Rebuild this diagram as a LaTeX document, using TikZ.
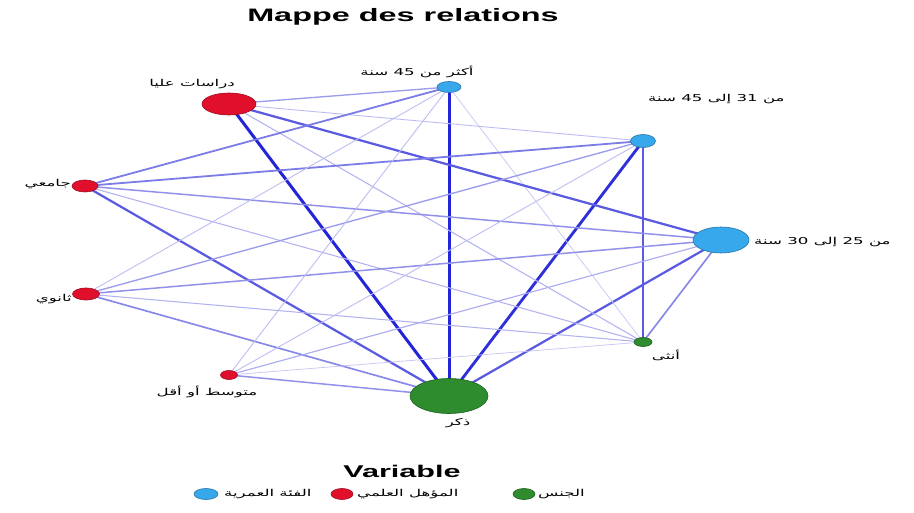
\documentclass[tikz,border=0pt]{standalone}
\usepackage{graphicx}
\usepackage{fontspec}
\setmainfont{Liberation Sans}
\newfontfamily\arabicfont[Script=Arabic]{DejaVu Sans}
\TeXXeTstate=1
\usetikzlibrary{shapes.geometric}
\pgfdeclarelayer{bglayer}
\pgfdeclarelayer{edgelayer}
\pgfsetlayers{bglayer,edgelayer,main}
\newcommand\artxt[1]{\scalebox{1.75}[1]{\arabicfont\fontsize{9.5}{11}\selectfont\beginR #1\endR}}
\definecolor{catred}{HTML}{E0102C}
\definecolor{catblue}{HTML}{38A8EC}
\definecolor{catgreen}{HTML}{2E8B2E}
\definecolor{edgeblue}{HTML}{2424D8}
\begin{document}
\begin{tikzpicture}[x=1pt,y=-1pt,
  cat/.style={ellipse,draw,inner sep=0pt,line width=0.6pt},
  redcat/.style={cat,fill=catred,draw=catred!70!black},
  bluecat/.style={cat,fill=catblue,draw=catblue!70!black},
  greencat/.style={cat,fill=catgreen,draw=catgreen!70!black},
  lab/.style={inner sep=0pt},
  ew/.style={draw=edgeblue!#1!white,line width=#1/100*3pt},
]
\useasboundingbox (0,0) rectangle (914,513);
\begin{pgfonlayer}{bglayer}
\fill[white] (0,0) rectangle (914,513);
\end{pgfonlayer}
% title
\node[lab] (title) at (403,17) {\scalebox{1.8}[1]{\bfseries\fontsize{18}{20}\selectfont Mappe des relations}};
% category nodes
\node[redcat,minimum width=54pt,minimum height=22pt] (dr) at (229,104) {};
\node[redcat,minimum width=26pt,minimum height=12pt] (jm) at (85,186) {};
\node[redcat,minimum width=27pt,minimum height=12pt] (th) at (86,294) {};
\node[redcat,minimum width=17pt,minimum height=9pt] (mt) at (229,375) {};
\node[bluecat,minimum width=24pt,minimum height=11pt] (a45) at (449,87) {};
\node[bluecat,minimum width=25pt,minimum height=13pt] (a31) at (643,141) {};
\node[bluecat,minimum width=56pt,minimum height=26pt] (a25) at (721,240) {};
\node[greencat,minimum width=78pt,minimum height=35pt] (m) at (449,396) {};
\node[greencat,minimum width=18pt,minimum height=9pt] (f) at (643,342) {};
% labels
\node[lab] (ldr) at (192,84) {\artxt{دراسات عليا}};
\node[lab,anchor=east] (ljm) at (71,184) {\artxt{جامعي}};
\node[lab,anchor=east] (lth) at (72,299) {\artxt{ثانوي}};
\node[lab] (lmt) at (207,392) {\artxt{متوسط أو أقل}};
\node[lab] (la45) at (417,72) {\artxt{أكثر من 45 سنة}};
\node[lab,anchor=west] (la31) at (648,99) {\artxt{من 31 إلى 45 سنة}};
\node[lab,anchor=west] (la25) at (754,242) {\artxt{من 25 إلى 30 سنة}};
\node[lab] (lm) at (458,423) {\artxt{ذكر}};
\node[lab] (lf) at (666,355) {\artxt{أنثى}};
% edges
\begin{pgfonlayer}{edgelayer}
\foreach \a/\b/\w in {m/dr/100,m/a45/100,m/a31/95,m/a25/75,m/jm/75,m/th/55,m/mt/50,
  f/a31/75,f/a25/55,f/a45/25,f/dr/35,f/jm/35,f/th/35,f/mt/25,
  a25/dr/75,a25/jm/50,a25/th/50,a25/mt/38,
  a31/jm/60,a31/th/45,a31/dr/30,a31/mt/30,
  a45/dr/45,a45/jm/60,a45/th/30,a45/mt/30}
  \draw[ew=\w] (\a.center) -- (\b.center);
\end{pgfonlayer}
% legend
\node[lab] (vtitle) at (402,471) {\scalebox{1.8}[1]{\bfseries\fontsize{17}{19}\selectfont Variable}};
\node[bluecat,minimum width=24pt,minimum height=11pt] (kb) at (206,494) {};
\node[lab,anchor=west] (kbl) at (224,494) {\artxt{الفئة العمرية}};
\node[redcat,minimum width=22pt,minimum height=11pt] (kr) at (342,494) {};
\node[lab,anchor=west] (krl) at (357,494) {\artxt{المؤهل العلمي}};
\node[greencat,minimum width=22pt,minimum height=11pt] (kg) at (524,494) {};
\node[lab,anchor=west] (kgl) at (538,494) {\artxt{الجنس}};
\end{tikzpicture}
\end{document}
